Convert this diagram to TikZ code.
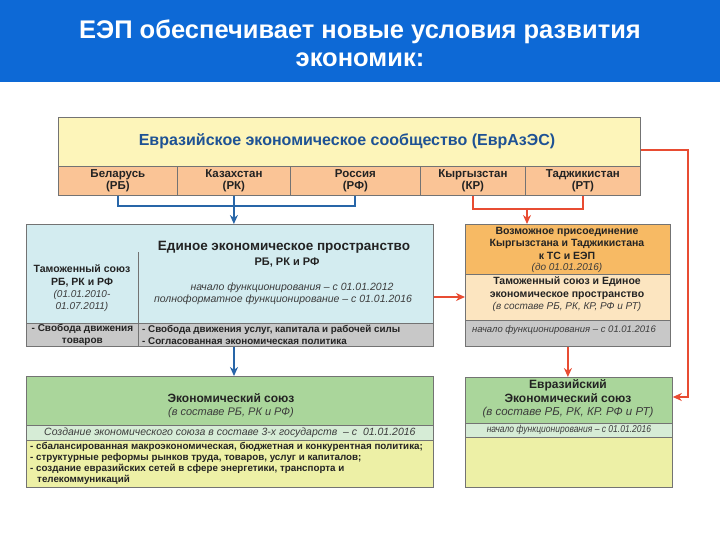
\documentclass[tikz,border=0pt]{standalone}
\usepackage{fontspec}
\setmainfont{Liberation Sans}
\usetikzlibrary{arrows.meta}
\definecolor{headc}{RGB}{13,105,214}
\definecolor{ytitle}{RGB}{253,245,186}
\definecolor{ctry}{RGB}{250,196,150}
\definecolor{lblue}{RGB}{211,236,240}
\definecolor{grayc}{RGB}{200,200,200}
\definecolor{orng}{RGB}{247,186,100}
\definecolor{peach}{RGB}{252,229,192}
\definecolor{grn}{RGB}{170,214,155}
\definecolor{lgrn}{RGB}{214,236,214}
\definecolor{yel}{RGB}{237,240,166}
\definecolor{bordc}{RGB}{115,115,115}
\definecolor{bluel}{RGB}{40,102,168}
\definecolor{redl}{RGB}{232,76,50}
\definecolor{dblue}{RGB}{30,82,148}
\definecolor{textc}{RGB}{35,35,35}
\definecolor{itc}{RGB}{60,60,60}
\begin{document}
\begin{tikzpicture}[x=1pt,y=-1pt,
  band/.style={draw=bordc, line width=0.8pt, inner sep=0pt, anchor=north west},
  lbl/.style={inner sep=0pt, text=textc, align=center},
  fz/.style n args={2}{font=\fontsize{#1}{#2}\selectfont},
  bfz/.style n args={2}{font=\bfseries\fontsize{#1}{#2}\selectfont},
  ifz/.style n args={2}{font=\itshape\fontsize{#1}{#2}\selectfont, text=itc},
  bconn/.style={draw=bluel, line width=2pt},
  rconn/.style={draw=redl, line width=2pt},
  tip/.style={-{Stealth[length=9pt,width=8pt]}}]
\useasboundingbox (0,0) rectangle (720,540);
% header
\fill[headc] (0,0) rectangle (720,82);
\node[inner sep=0pt, text=white, align=center, bfz={25.5}{28}] (hdr) at (360,43)
  {ЕЭП обеспечивает новые условия развития\\экономик:};

% top box
\node[band, fill=ytitle, minimum width=582pt, minimum height=49pt] (evrt) at (58,117) {};
\node[inner sep=0pt, text=dblue, bfz={16}{19}] (evrtxt) at (347,141) {Евразийское экономическое сообщество (ЕврАзЭС)};
\node[band, fill=ctry, minimum width=119pt, minimum height=29pt] (rb) at (58,166) {};
\node[band, fill=ctry, minimum width=113pt, minimum height=29pt] (rk) at (177,166) {};
\node[band, fill=ctry, minimum width=130pt, minimum height=29pt] (rf) at (290,166) {};
\node[band, fill=ctry, minimum width=105pt, minimum height=29pt] (kr) at (420,166) {};
\node[band, fill=ctry, minimum width=115pt, minimum height=29pt] (rt) at (525,166) {};
\node[lbl, bfz={11.5}{12.5}] (rbt) at (rb) {Беларусь\\(РБ)};
\node[lbl, bfz={11.5}{12.5}] (rkt) at (rk) {Казахстан\\(РК)};
\node[lbl, bfz={11.5}{12.5}] (rft) at (rf) {Россия\\(РФ)};
\node[lbl, bfz={11.5}{12.5}] (krt) at (kr) {Кыргызстан\\(КР)};
\node[lbl, bfz={11.5}{12.5}] (rtt) at (rt) {Таджикистан\\(РТ)};

% middle left box
\node[band, fill=lblue, minimum width=407pt, minimum height=99pt] (ees) at (26,224) {};
\node[band, fill=grayc, minimum width=112pt, minimum height=23pt] (g1) at (26,323) {};
\node[band, fill=grayc, minimum width=295pt, minimum height=23pt] (g2) at (138,323) {};
\draw[bordc, line width=0.8pt] (138,252) -- (g2.north west);
\node[lbl, bfz={13.5}{16}] (eest) at (284,247) {Единое экономическое пространство};
\node[lbl, bfz={11}{13}] (eesc) at (287,263) {РБ, РК и РФ};
\node[lbl, ifz={10.5}{12.5}] (eesd) at (283,294) {\hspace*{18pt}начало функционирования – с 01.01.2012\\полноформатное функционирование – с 01.01.2016};
\node[lbl, bfz={10.5}{12.5}] (tsl) at (82,276) {Таможенный союз\\РБ, РК и РФ};
\node[lbl, ifz={10}{11.5}] (tsd) at (82,301) {(01.01.2010-\\01.07.2011)};
\node[lbl, bfz={10}{12}] (g1t) at (g1) {- Свобода движения\\товаров};
\node[lbl, bfz={9.8}{12}, align=left, anchor=west] (g2t) at (142,335) {- Свобода движения услуг, капитала и рабочей силы\\- Согласованная экономическая политика};

% middle right box
\node[band, fill=orng, minimum width=205pt, minimum height=50pt] (vozm) at (465,224) {};
\node[band, fill=peach, minimum width=205pt, minimum height=46pt] (tsr) at (465,274) {};
\node[band, fill=grayc, minimum width=205pt, minimum height=26pt] (g3) at (465,320) {};
\node[lbl, bfz={10.5}{12.5}] (vozmt) at (567,243) {Возможное присоединение\\Кыргызстана и Таджикистана\\к ТС и ЕЭП};
\node[lbl, ifz={10}{11}] (vozmd) at (567,268) {(до 01.01.2016)};
\node[lbl, bfz={10.5}{12.5}] (tsrt) at (567,288) {Таможенный союз и Единое\\экономическое пространство};
\node[lbl, ifz={10}{11}] (tsrd) at (567,307) {(в составе РБ, РК, КР, РФ и РТ)};
\node[lbl, ifz={9.5}{11}] (g3t) at (564,330) {начало функционирования – с 01.01.2016};

% bottom left box
\node[band, fill=grn, minimum width=407pt, minimum height=49pt] (es) at (26,376) {};
\node[band, fill=lgrn, minimum width=407pt, minimum height=15pt] (esl) at (26,425) {};
\node[band, fill=yel, minimum width=407pt, minimum height=47pt] (esy) at (26,440) {};
\node[lbl, bfz={12}{14}] (est) at (231,398) {Экономический союз};
\node[lbl, ifz={11}{13}] (esd) at (231,413) {(в составе РБ, РК и РФ)};
\node[lbl, ifz={10.5}{12}] (eslt) at (esl) {Создание экономического союза в составе 3-х государств \ – с \ 01.01.2016};
\node[lbl, bfz={9.8}{11.2}, align=left, anchor=north west] (esyt) at (30,442)
  {- сбалансированная макроэкономическая, бюджетная и конкурентная политика;\\
   - структурные реформы рынков труда, товаров, услуг и капиталов;\\
   - создание евразийских сетей в сфере энергетики, транспорта и\\
   \hspace*{7pt}телекоммуникаций};

% bottom right box
\node[band, fill=grn, minimum width=207pt, minimum height=46pt] (ees2) at (465,377) {};
\node[band, fill=lgrn, minimum width=207pt, minimum height=14pt] (ees2l) at (465,423) {};
\node[band, fill=yel, minimum width=207pt, minimum height=50pt] (ees2y) at (465,437) {};
\node[lbl, bfz={12}{14}] (ees2t) at (568,391) {Евразийский\\Экономический союз};
\node[lbl, ifz={11.5}{13}] (ees2d) at (568,413) {(в составе РБ, РК, КР. РФ и РТ)};
\node[lbl, ifz={10}{11}] (ees2lt) at (ees2l) {\scalebox{0.85}[1]{начало функционирования – с 01.01.2016}};

% blue connectors
\coordinate (bj) at (234,346);
\draw[bconn] (rb.south) -- ++(0,10) -| (rf.south);
\draw[bconn, tip] (rk.south) -- (rk.south |- ees.north);
\draw[bconn, tip] (g2.south -| bj) -- (es.north -| bj);
% red connectors
\coordinate (rj) at (527,208);
\draw[rconn] (kr.south) -- ++(0,13) -| (rt.south);
\draw[rconn, tip] (rj) -- (rj |- vozm.north);
\draw[rconn, tip] (ees.east |- 0,297) -- (tsr.west |- 0,297);
\draw[rconn, tip] (g3.south) -- (g3.south |- ees2.north);
\coordinate (rc1) at (688,150);
\coordinate (rc2) at (688,397);
\draw[rconn, tip] (evrt.east |- rc1) -- (rc1) -- (rc2) -- (ees2.east |- rc2);
\end{tikzpicture}
\end{document}
